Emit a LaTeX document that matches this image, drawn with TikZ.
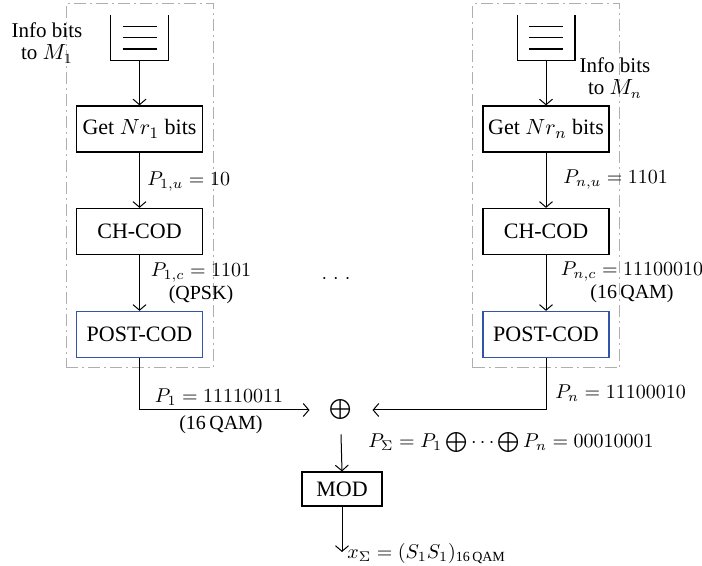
\documentclass[tikz,border=0pt]{standalone}
\usepackage{amsmath}
\usepackage{fontspec}
\setmainfont{Liberation Serif}
\usetikzlibrary{arrows.meta}
\definecolor{postblue}{RGB}{50,85,170}
\definecolor{framegray}{RGB}{175,175,175}
\tikzset{
  blk/.style={draw, line width=0.6pt, minimum width=63pt, minimum height=23pt, inner sep=0pt},
  postblk/.style={blk, draw=postblue},
  frame/.style={draw=framegray, line width=0.5pt, dash pattern=on 6pt off 2pt on 1pt off 2pt, minimum width=73.5pt, minimum height=182pt, inner sep=0pt},
  conn/.style={line width=0.5pt, -{Straight Barb[length=2.8pt,width=6.5pt]}},
  lbl/.style={inner sep=0pt, align=center, font=\fontsize{10}{11.5}\selectfont},
  infolbl/.style={inner sep=0pt, align=center, font=\fontsize{10.5}{11}\selectfont},
  bufnode/.style={minimum width=28.5pt, minimum height=22.5pt, inner sep=0pt}
}
\begin{document}
\begin{tikzpicture}[x=0.5pt,y=-0.5pt, font=\fontsize{11}{11.5}\selectfont]
\useasboundingbox (0,0) rectangle (702,566);

% group frames
\node[frame] (g1) at (139.5,186) {};
\node[frame] (gn) at (546,186) {};

% left chain
\node[bufnode] (buf1) at (139.5,37.5) {};
\draw[line width=0.6pt] (buf1.north west) -- (buf1.south west) -- (buf1.south east) -- (buf1.north east);
\foreach \dy in {-5.5,0,5.75} {
  \draw[line width=0.6pt] ([xshift=-8.5pt,yshift=-\dy pt]buf1.center) -- ([xshift=8.5pt,yshift=-\dy pt]buf1.center);
}
\node[blk] (get1) at (139.5,129) {Get $Nr_1$ bits};
\node[blk] (ch1) at (139.5,231.5) {CH-COD};
\node[postblk] (post1) at (139.5,334.5) {POST-COD};

% right chain
\node[bufnode] (bufn) at (546,37.5) {};
\draw[line width=0.6pt] (bufn.north west) -- (bufn.south west) -- (bufn.south east) -- (bufn.north east);
\foreach \dy in {-5.5,0,5.75} {
  \draw[line width=0.6pt] ([xshift=-8.5pt,yshift=-\dy pt]bufn.center) -- ([xshift=8.5pt,yshift=-\dy pt]bufn.center);
}
\node[blk] (getn) at (546,129) {Get $Nr_n$ bits};
\node[blk] (chn) at (546,231.5) {CH-COD};
\node[postblk] (postn) at (546,334.5) {POST-COD};

% xor, mod
\node[inner xsep=10pt, inner ysep=7pt, font=\fontsize{10}{10}\selectfont] (xor) at (341,410) {$\textstyle\bigoplus$};
\node[draw, line width=0.6pt, minimum width=40pt, minimum height=17pt, inner sep=0pt] (mod) at (342,489) {MOD};
\coordinate (out) at (342,552);

% connectors
\draw[conn] (buf1.south) -- (get1.north);
\draw[conn] (get1.south) -- (ch1.north);
\draw[conn] (ch1.south) -- (post1.north);
\draw[conn] (bufn.south) -- (getn.north);
\draw[conn] (getn.south) -- (chn.north);
\draw[conn] (chn.south) -- (postn.north);
\draw[conn] (post1.south) |- (xor.west);
\draw[conn] (postn.south) |- (xor.east);
\draw[conn] (xor.south) -- (mod.north);
\draw[conn] (mod.south) -- (out);

% labels
\node[infolbl] (info1) at (47,43) {Info bits\\to $M_1$};
\node[infolbl] (infon) at (615,78) {Info bits\\to $M_n$};
\node[lbl, anchor=west] (l1u) at (147,182) {$P_{1,u}=10$};
\node[lbl] (l1c) at (201,283) {$P_{1,c}=1101$\\(QPSK)};
\node[lbl, anchor=west] (lnu) at (563,180) {$P_{n,u}=1101$};
\node[lbl] (lnc) at (632,282) {$P_{n,c}=11100010$\\(16\,QAM)};
\node[lbl] (dots) at (336,279) {$\cdot$\hspace{3pt}$\cdot$\hspace{3pt}$\cdot$};
\node[lbl] (l1) at (219,397) {$P_1=11110011$};
\node[lbl] (l1q) at (221,425) {(16\,QAM)};
\node[lbl, anchor=west] (ln) at (555,393) {$P_n=11100010$};
\node[lbl, anchor=west] (lsum) at (368,443) {$P_{\Sigma}=P_1\bigoplus\cdots\bigoplus P_n=00010001$};
\node[lbl, anchor=west] (lx) at (347,554) {$x_{\Sigma}=(S_1S_1)_{\text{16\,QAM}}$};
\end{tikzpicture}
\end{document}
